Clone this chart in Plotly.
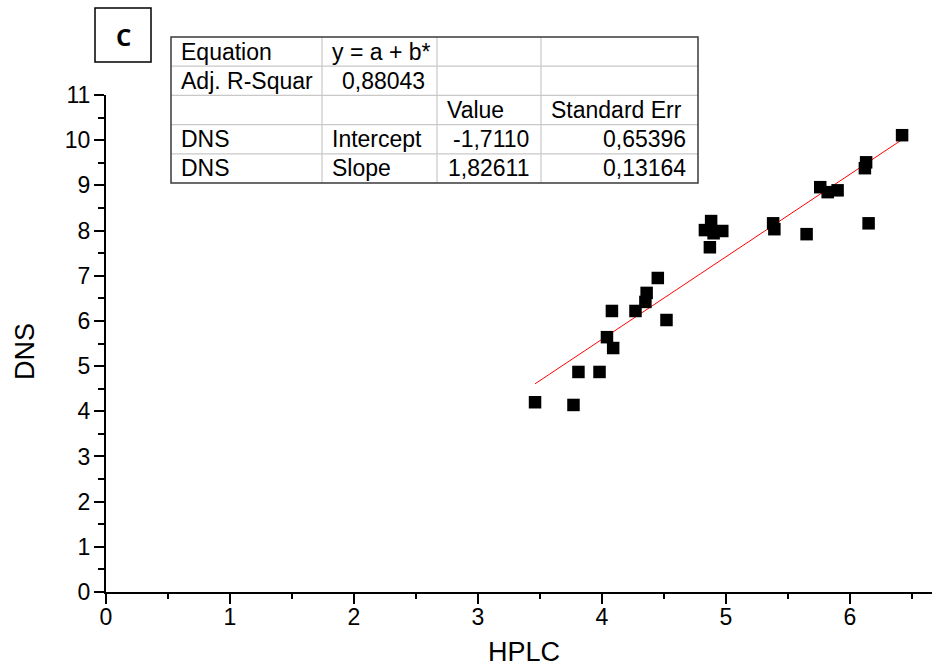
import plotly.graph_objects as go

# HPLC vs DNS measurements
hplc = [3.46, 3.77, 3.81, 3.98, 4.04, 4.09, 4.08, 4.27, 4.35, 4.36, 4.45, 4.52,
        4.83, 4.88, 4.90, 4.97, 4.87, 5.38, 5.39, 5.65, 5.76, 5.82, 5.90,
        6.13, 6.12, 6.15, 6.42]
dns = [4.20, 4.14, 4.87, 4.87, 5.64, 5.40, 6.22, 6.22, 6.42, 6.62, 6.95, 6.02,
       8.01, 8.21, 7.94, 7.99, 7.63, 8.16, 8.03, 7.92, 8.96, 8.85, 8.89,
       9.51, 9.38, 8.16, 10.11]

# Linear fit results
intercept = -1.7110
slope = 1.82611

# Fit report table
table_rows = [
    ["Equation", "y = a + b*", "", ""],
    ["Adj. R-Squar", "0,88043", "", ""],
    ["", "", "Value", "Standard Err"],
    ["DNS", "Intercept", "-1,7110", "0,65396"],
    ["DNS", "Slope", "1,82611", "0,13164"],
]
table_align = [
    ["left", "left", "left", "left"],
    ["left", "right", "left", "left"],
    ["left", "left", "left", "left"],
    ["left", "left", "right", "right"],
    ["left", "left", "right", "right"],
]

x_ticks = [0, 1, 2, 3, 4, 5, 6]
y_ticks = list(range(0, 12))

W, H = 932, 666
ML, MR, MT, MB = 106, 0, 95, 74
PW, PH = W - ML - MR, H - MT - MB
FONT = "Liberation Sans"


def px_x(px):
    return (px - ML) / PW


def px_y(py):
    return (H - MB - py) / PH


fit_x = [min(hplc), max(hplc)]
fit_y = [intercept + slope * v for v in fit_x]

fig = go.Figure()
fig.add_trace(go.Scatter(
    x=fit_x, y=fit_y, mode="lines",
    line=dict(color="#ff0000", width=1), showlegend=False,
))
fig.add_trace(go.Scatter(
    x=hplc, y=dns, mode="markers",
    marker=dict(symbol="square", size=12.5, color="black", line=dict(width=0)),
    showlegend=False,
))

axis_common = dict(
    showgrid=False, zeroline=False, showline=True, linecolor="black",
    linewidth=2, ticks="outside", ticklen=10, tickwidth=2, tickcolor="black",
    tickfont=dict(family=FONT, size=23, color="black"),
)
fig.update_xaxes(
    range=[0, PW / 124.0], tickvals=x_ticks, ticklabelstandoff=-7,
    minor=dict(dtick=0.5, ticks="outside", ticklen=5, tickwidth=2, tickcolor="black"),
    **axis_common,
)
fig.update_yaxes(
    range=[0, 11], tickvals=y_ticks, ticklabelstandoff=-1,
    minor=dict(dtick=0.5, ticks="outside", ticklen=6, tickwidth=2, tickcolor="black"),
    **axis_common,
)

shapes = []
annotations = []

# Axis titles
title_font = dict(family=FONT, size=27, color="black")
annotations.append(dict(text="HPLC", x=px_x(524), y=px_y(652), xref="paper", yref="paper",
                        showarrow=False, font=title_font, xanchor="center", yanchor="middle"))
annotations.append(dict(text="DNS", x=px_x(25), y=px_y(352), xref="paper", yref="paper",
                        showarrow=False, font=title_font, textangle=-90,
                        xanchor="center", yanchor="middle"))

# Panel letter box
shapes.append(dict(type="rect", xref="paper", yref="paper",
                   x0=px_x(95), x1=px_x(151), y0=px_y(62), y1=px_y(8),
                   line=dict(color="black", width=1.5), fillcolor="white"))
annotations.append(dict(text="<b>C</b>", x=px_x(123), y=px_y(36), xref="paper", yref="paper",
                        showarrow=False, xanchor="center", yanchor="middle",
                        font=dict(family="Open Sans", size=24, color="black")))

# Fit report table
col_edges = [171, 322, 437, 541, 698]
top, bottom = 37, 183
n_rows = len(table_rows)
row_h = (bottom - top) / n_rows
grid = dict(color="#c8c8c8", width=1.2)
for ce in col_edges[1:-1]:
    shapes.append(dict(type="line", xref="paper", yref="paper",
                       x0=px_x(ce), x1=px_x(ce), y0=px_y(top), y1=px_y(bottom), line=grid))
for r in range(1, n_rows):
    yy = top + r * row_h
    shapes.append(dict(type="line", xref="paper", yref="paper",
                       x0=px_x(col_edges[0]), x1=px_x(col_edges[-1]),
                       y0=px_y(yy), y1=px_y(yy), line=grid))
shapes.append(dict(type="rect", xref="paper", yref="paper",
                   x0=px_x(col_edges[0]), x1=px_x(col_edges[-1]),
                   y0=px_y(bottom), y1=px_y(top),
                   line=dict(color="#3a3a3a", width=1.5)))

cell_font = dict(family=FONT, size=23, color="black")
for r, row in enumerate(table_rows):
    yc = top + (r + 0.5) * row_h
    for c, txt in enumerate(row):
        if not txt:
            continue
        if table_align[r][c] == "right":
            xp, anchor = col_edges[c + 1] - 10, "right"
        else:
            xp, anchor = col_edges[c] + 8, "left"
        annotations.append(dict(text=txt, x=px_x(xp), y=px_y(yc), xref="paper", yref="paper",
                                showarrow=False, xanchor=anchor, yanchor="middle",
                                font=cell_font))

fig.update_layout(
    width=W, height=H,
    margin=dict(l=ML, r=MR, t=MT, b=MB),
    paper_bgcolor="white", plot_bgcolor="white",
    shapes=shapes, annotations=annotations,
)

fig.write_html("out.html")
